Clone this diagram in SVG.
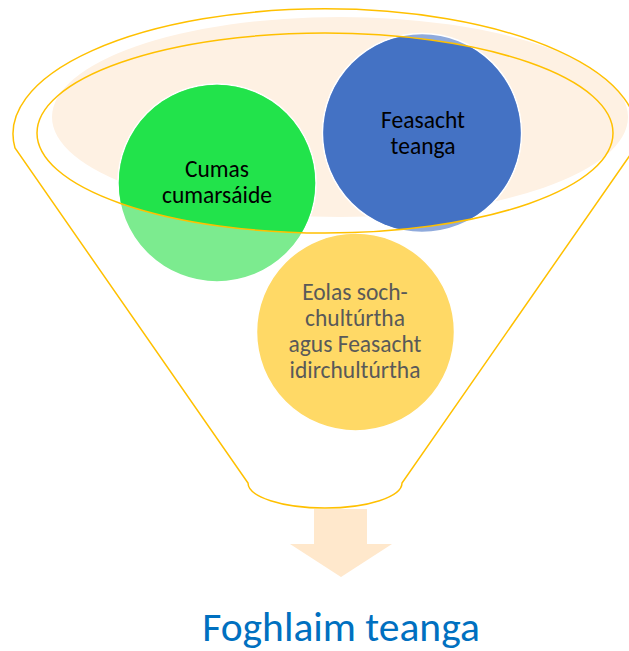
<svg xmlns="http://www.w3.org/2000/svg" width="629" height="651" viewBox="0 0 629 651">
  <style>
    .outline { fill: none; stroke: #FFC000; stroke-width: 1.5; }
    .ring { stroke: #FFFFFF; stroke-width: 1.5; }
    .lbl { font-family: Carlito, Lato, "Open Sans", sans-serif; font-size: 23.5px; text-anchor: middle; }
    .dark { fill: #000000; }
    .grey { fill: #595959; }
  </style>
  <defs>
    <clipPath id="innerClip">
      <ellipse cx="325" cy="133" rx="288" ry="100"/>
    </clipPath>
  </defs>
  <rect x="0" y="0" width="629" height="651" fill="#FFFFFF"/>

  <g id="funnel">
    <ellipse cx="340" cy="117" rx="288" ry="100" fill="#FEF1E3"/>
  </g>

  <g id="node-green">
    <circle class="ring" cx="217" cy="183" r="99" fill="#7CEB8F"/>
    <circle cx="217" cy="183" r="98.2" fill="#22E34B" clip-path="url(#innerClip)"/>
    <text class="lbl dark" x="217" y="177">Cumas</text>
    <text class="lbl dark" x="217" y="203">cumarsáide</text>
  </g>

  <g id="node-blue">
    <circle class="ring" cx="422" cy="133" r="99.5" fill="#8FAADC"/>
    <circle cx="422" cy="133" r="98.7" fill="#4472C4" clip-path="url(#innerClip)"/>
    <text class="lbl dark" x="423" y="128">Feasacht</text>
    <text class="lbl dark" x="423" y="154">teanga</text>
  </g>

  <g id="node-yellow">
    <circle class="ring" cx="355.5" cy="332" r="99" fill="#FFD966"/>
    <text class="lbl grey" x="355" y="300">Eolas soch-</text>
    <text class="lbl grey" x="355" y="326">chultúrtha</text>
    <text class="lbl grey" x="355" y="352">agus Feasacht</text>
    <text class="lbl grey" x="355" y="378">idirchultúrtha</text>
  </g>

  <g id="funnel-lines">
    <ellipse class="outline" cx="325" cy="133" rx="288" ry="100"/>
    <path class="outline" d="M 15 148 A 312 125 0 1 1 635 148 L 402 483 A 77 25 0 0 1 248 483 Z"/>
  </g>

  <g id="connectors">
    <path d="M 314 509 L 367 509 L 367 544 L 392 544 L 341 577 L 290 544 L 314 544 Z" fill="#FFE8CC"/>
  </g>

  <g id="result">
    <text x="341" y="641" font-family="Carlito, Lato, 'Open Sans', sans-serif" font-size="41.5" fill="#0070C0" text-anchor="middle">Foghlaim teanga</text>
  </g>
</svg>
